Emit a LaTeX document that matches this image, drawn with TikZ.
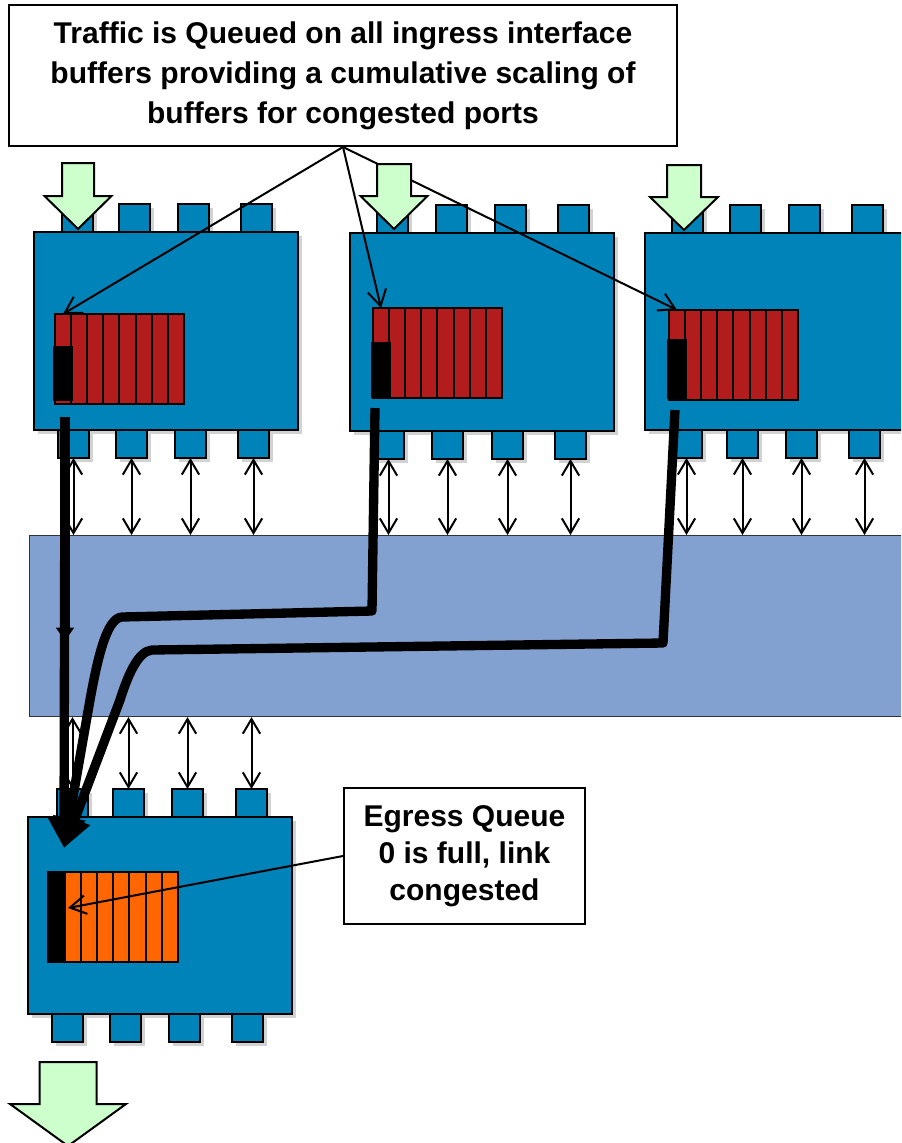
\documentclass[tikz,border=0pt]{standalone}
\usepackage{fontspec}
\setmainfont{Liberation Sans}
\usetikzlibrary{arrows.meta,shadows}
\definecolor{cardblue}{RGB}{0,131,185}
\definecolor{fabricblue}{RGB}{130,161,208}
\definecolor{qred}{RGB}{178,28,28}
\definecolor{qorange}{RGB}{255,102,0}
\definecolor{lgreen}{RGB}{204,255,204}
\def\PX{0.75pt}
\tikzset{
  card/.style={draw=black, line width=1.5pt, fill=cardblue, inner sep=0pt, outer sep=0pt,
    anchor=north west, drop shadow={opacity=0.35, shadow xshift=3pt, shadow yshift=-3pt}},
  port/.style={card, minimum width=31*\PX, minimum height=28*\PX},
  slot/.style={draw=black, line width=1.5pt, inner sep=0pt, outer sep=0pt, anchor=north west,
    minimum width=16.1*\PX, minimum height=90*\PX},
  blk/.style={draw=black, fill=black, line width=1pt, inner sep=0pt, outer sep=0pt, anchor=north west,
    minimum width=18*\PX},
  fabric/.style={draw=black!80, line width=0.8pt, fill=fabricblue, inner sep=0pt, anchor=north west},
  labelbox/.style={draw=black, line width=1.5pt, fill=white, align=center, inner sep=0pt,
    anchor=north west},
  garrow/.style={draw=black, line width=1.5pt, fill=lgreen, line join=miter},
  bidir/.style={line width=1.5pt, {Straight Barb[length=11pt,width=13pt]}-{Straight Barb[length=11pt,width=13pt]}},
  callline/.style={line width=1.5pt, -{Straight Barb[length=12pt,width=14pt]}},
  flow/.style={line width=7pt, line join=round},
  bighead/.style={-{Triangle[length=23pt,width=23pt]}},
  midhead/.style={-{Triangle[length=10pt,width=13pt]}},
}
\newcommand\ports[3]{%
  \foreach \xx [count=\k] in {#3}{\node[port] (#1\k) at (\xx,#2) {};}}
\newcommand\greenarr[7]{%
  \coordinate (#1) at (#2,#3);
  \draw[garrow] ({#2-#4/2},#3) -- ({#2+#4/2},#3) -- ({#2+#4/2},{#3+#6}) -- ({#2+#5/2},{#3+#6})
    -- (#2,{#3+#6+#7}) -- ({#2-#5/2},{#3+#6}) -- ({#2-#4/2},{#3+#6}) -- cycle;}
\newcommand\ingq[5]{%
  \foreach \k in {1,...,8}{\node[slot,fill=qred] (#1s\k) at ({#2+(\k-1)*16.1},#3) {};}
  \node[blk,minimum height=#5*\PX] (#1blk) at ({#2-1},{#3+#4}) {};}
\begin{document}
\begin{tikzpicture}[x=0.75pt,y=-0.75pt]
\clip (0,0) rectangle (901,1143);
\fill[white] (0,0) rectangle (901,1143);

% switch fabric
\node[fabric, minimum width=890*\PX, minimum height=181*\PX] (fab) at (29,535) {};

% ingress card 1
\ports{c1t}{204}{62,119,178,241}
\node[card, minimum width=264*\PX, minimum height=198*\PX] (c1) at (34,232) {};
\ports{c1b}{430}{58,116,175,238}
\ingq{q1}{55}{314}{33}{53}

% ingress card 2
\ports{c2t}{205}{377,436,495,558}
\node[card, minimum width=264*\PX, minimum height=198*\PX] (c2) at (350,233) {};
\ports{c2b}{431}{373,432,492,555}
\ingq{q2}{373}{308}{35}{54}

% ingress card 3
\ports{c3t}{205}{672,730,789,852}
\node[card, minimum width=300*\PX, minimum height=197*\PX] (c3) at (645,233) {};
\ports{c3b}{430}{671,727,786,849}
\ingq{q3}{669}{310}{30}{58}

% egress card
\ports{c4t}{789}{57,113,172,236}
\node[card, minimum width=264*\PX, minimum height=197*\PX] (c4) at (28,817) {};
\ports{c4b}{1014}{52,110,169,232}
\foreach \k in {1,...,7}{\node[slot,fill=qorange] (q4s\k) at ({65+(\k-1)*16.1},872) {};}
\node[blk, minimum height=90*\PX, minimum width=17*\PX] (q4blk) at (48,872) {};

% fabric connections
\foreach \p in {c1b,c2b,c3b}{
  \foreach \k in {1,...,4}{\draw[bidir] (\p\k.south) -- (\p\k.south |- fab.north);}}
\foreach \k in {1,...,4}{\draw[bidir] (fab.south -| c4t\k.north) -- (c4t\k.north);}

% callout
\node[labelbox, minimum width=668*\PX, minimum height=141*\PX,
  font=\bfseries\fontsize{22.5pt}{30pt}\selectfont] (co) at (8,4)
  {Traffic is Queued on all ingress interface\\buffers providing a cumulative scaling of\\buffers for congested ports};
\draw[callline] (co.south) -- (q1s1.north);
\draw[callline] (co.south) -- (q2s1.north);
\draw[callline] (co.south) -- (q3s1.north);

% green traffic arrows
\greenarr{in1}{78}{163}{32}{67}{33}{33}
\greenarr{in2}{394}{164}{34}{67}{32}{33}
\greenarr{in3}{684}{165}{34}{68}{32}{33}
\greenarr{out}{68}{1062}{57}{116}{42}{42}

% egress label
\node[labelbox, minimum width=241*\PX, minimum height=136*\PX,
  font=\bfseries\fontsize{22.5pt}{27.75pt}\selectfont] (eg) at (343,787)
  {Egress Queue\\0 is full, link\\congested};
\coordinate (egtip) at (68,908);
\draw[callline] (eg.west) -- (egtip);

% traffic flows
\coordinate (f1a) at (65,417);
\coordinate (f1m) at (65,641);
\coordinate (sink) at (64,848);
\coordinate (f2a) at (375,408);
\coordinate (f2b) at (372,611);
\coordinate (f2c) at (122,617);
\coordinate (f3a) at (675,410);
\coordinate (f3b) at (663,643);
\coordinate (f3c) at (152,650);
\draw[flow, bighead] (f1a) -- (sink);
\draw[flow, midhead] (f1a) -- (f1m);
\draw[flow, bighead] (f2a) -- (f2b) -- (f2c) .. controls (108,618) and (99,650) .. (90,700) -- (sink);
\draw[flow, bighead] (f3a) -- (f3b) -- (f3c) .. controls (138,651) and (128,675) .. (120,700) -- (sink);
\end{tikzpicture}
\end{document}
